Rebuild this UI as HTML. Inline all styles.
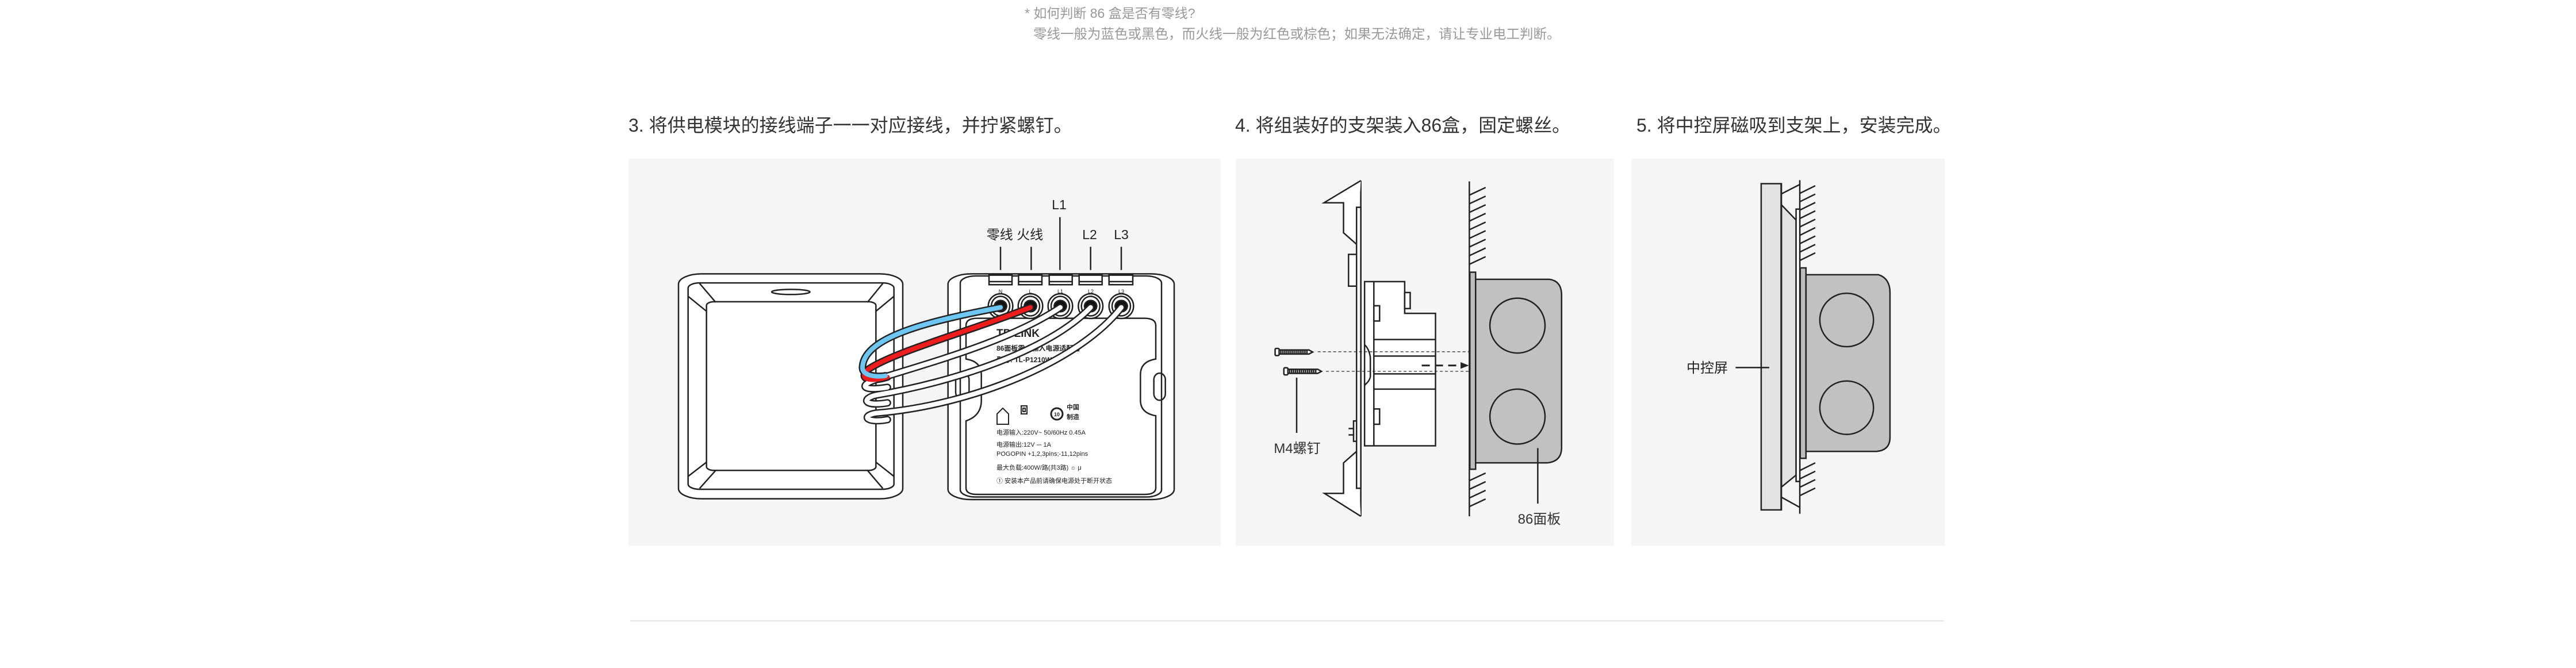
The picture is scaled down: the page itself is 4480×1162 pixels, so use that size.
<!DOCTYPE html>
<html><head><meta charset="utf-8">
<style>
html,body{margin:0;padding:0;background:#fff;}
svg{display:block}
svg *{vector-effect:non-scaling-stroke}
text{font-family:"Liberation Sans","Noto Sans CJK SC",sans-serif}
</style></head>
<body>
<svg width="4480" height="1162" viewBox="0 0 4480 1162" xmlns="http://www.w3.org/2000/svg">
<rect width="4480" height="1162" fill="#fff"/>
<text x="1782" y="31" font-size="23" fill="#999">* 如何判断 86 盒是否有零线?</text>
<text x="1797" y="67" font-size="23.5" fill="#999">零线一般为蓝色或黑色，而火线一般为红色或棕色；如果无法确定，请让专业电工判断。</text>
<text x="1093" y="229" font-size="32" fill="#333">3. 将供电模块的接线端子一一对应接线，并拧紧螺钉。</text>
<text x="2148" y="229" font-size="32" fill="#333">4. 将组装好的支架装入86盒，固定螺丝。</text>
<text x="2846" y="229" font-size="32" fill="#333">5. 将中控屏磁吸到支架上，安装完成。</text>
<rect x="1093" y="276" width="1030" height="673" fill="#f5f5f5"/>
<rect x="2149" y="276" width="658" height="673" fill="#f5f5f5"/>
<rect x="2837" y="276" width="545" height="673" fill="#f5f5f5"/>
<line x1="1096" y1="1080" x2="3380" y2="1080" stroke="#e3e3e3" stroke-width="2"/>

<g transform="translate(1090,270) scale(0.6667,0.4487)" stroke="#222" stroke-width="2.5" fill="none">
  <rect x="135" y="460" width="585" height="872" rx="60" ry="40" fill="#fff"/>
  <rect x="160" y="495" width="537" height="800" rx="30" ry="20" fill="#fff"/>
  <rect x="208" y="568" width="442" height="654" rx="20" ry="14" fill="#fff"/>
  <line x1="190" y1="497" x2="232" y2="570"/><line x1="160" y1="547" x2="208" y2="605"/>
  <line x1="668" y1="497" x2="628" y2="570"/><line x1="697" y1="547" x2="650" y2="605"/>
  <line x1="160" y1="1245" x2="208" y2="1190"/><line x1="190" y1="1292" x2="232" y2="1222"/>
  <line x1="697" y1="1245" x2="650" y2="1190"/><line x1="668" y1="1292" x2="628" y2="1222"/>
  <ellipse cx="428" cy="530" rx="50" ry="10"/>
  <rect x="845" y="570" width="30" height="70" rx="14" ry="20" fill="#fff"/>
  <rect x="845" y="1150" width="30" height="75" rx="14" ry="20" fill="#fff"/>
  <rect x="1390" y="570" width="30" height="70" rx="14" ry="20" fill="#fff"/>
  <rect x="1390" y="1150" width="30" height="75" rx="14" ry="20" fill="#fff"/>
  <rect x="838" y="460" width="590" height="875" rx="60" ry="40" fill="#fff"/>
  <rect x="870" y="468" width="525" height="857" rx="40" ry="28" fill="#fff"/>
  <path d="M885,660 Q885,632 915,632 L1350,632 Q1380,632 1380,660 L1380,790 Q1340,800 1340,850 L1340,950 Q1340,1000 1380,1010 L1380,1290 Q1380,1315 1350,1315 L915,1315 Q885,1315 885,1290 L885,1030 Q925,1010 925,950 L925,850 Q925,800 885,790 Z" fill="#fff"/>
  <rect x="858" y="845" width="35" height="100" rx="17" ry="25"/>
  <rect x="1375" y="845" width="30" height="105" rx="15" ry="25"/>
  <rect x="945" y="465" width="60" height="37" fill="#fff"/><line x1="945" y1="490" x2="1005" y2="490"/>
  <rect x="1022" y="465" width="61" height="37" fill="#fff"/><line x1="1022" y1="490" x2="1083" y2="490"/>
  <rect x="1102" y="465" width="60" height="37" fill="#fff"/><line x1="1102" y1="490" x2="1162" y2="490"/>
  <rect x="1180" y="465" width="60" height="37" fill="#fff"/><line x1="1180" y1="490" x2="1240" y2="490"/>
  <rect x="1258" y="465" width="62" height="37" fill="#fff"/><line x1="1258" y1="490" x2="1320" y2="490"/>
  <g fill="#fff">
    <ellipse cx="975" cy="585" rx="32" ry="48"/><ellipse cx="975" cy="585" rx="24" ry="38"/>
    <ellipse cx="1053" cy="585" rx="32" ry="48"/><ellipse cx="1053" cy="585" rx="24" ry="38"/>
    <ellipse cx="1131" cy="585" rx="32" ry="48"/><ellipse cx="1131" cy="585" rx="24" ry="38"/>
    <ellipse cx="1210" cy="585" rx="32" ry="48"/><ellipse cx="1210" cy="585" rx="24" ry="38"/>
    <ellipse cx="1290" cy="585" rx="32" ry="48"/><ellipse cx="1290" cy="585" rx="24" ry="38"/>
  </g>
  <g fill="#111">
    <ellipse cx="975" cy="585" rx="16" ry="22"/><ellipse cx="1053" cy="585" rx="16" ry="22"/>
    <ellipse cx="1131" cy="585" rx="16" ry="22"/><ellipse cx="1210" cy="585" rx="16" ry="22"/>
    <ellipse cx="1290" cy="585" rx="16" ry="22"/>
  </g>
  <line x1="975" y1="355" x2="975" y2="445"/><line x1="1055" y1="355" x2="1055" y2="445"/>
  <line x1="1130" y1="240" x2="1130" y2="445"/><line x1="1210" y1="355" x2="1210" y2="445"/>
  <line x1="1290" y1="355" x2="1290" y2="445"/>
</g>
<g fill="#222">
  <text x="1733" y="586" font-size="19" font-weight="bold">TP-LINK</text>
  <text x="1733" y="610" font-size="12" font-weight="bold">86面板零火输入电源适配器</text>
  <text x="1733" y="630" font-size="12" font-weight="bold">型号: TL-P1210W</text>
  <text x="1733" y="756" font-size="11">电源输入:220V~ 50/60Hz 0.45A</text>
  <text x="1733" y="777" font-size="11">电源输出:12V ⎓ 1A</text>
  <text x="1733" y="793" font-size="11">POGOPIN +1,2,3pins;-11,12pins</text>
  <text x="1733" y="817" font-size="11">最大负载:400W/路(共3路) ☼ μ</text>
  <text x="1733" y="840" font-size="11">① 安装本产品前请确保电源处于断开状态</text>
  <text x="1855" y="712" font-size="11" font-weight="bold">中国</text>
  <text x="1855" y="729" font-size="11" font-weight="bold">制造</text>
  <text x="1740" y="510" font-size="9" text-anchor="middle">N</text>
  <text x="1792" y="510" font-size="9" text-anchor="middle">L</text>
  <text x="1844" y="510" font-size="9" text-anchor="middle">L1</text>
  <text x="1897" y="510" font-size="9" text-anchor="middle">L2</text>
  <text x="1950" y="510" font-size="9" text-anchor="middle">L3</text>
</g>
<g stroke="#222" stroke-width="2" fill="none">
  <path d="M1734,720 L1744,710 L1754,720 L1754,738 L1734,738 Z"/>
  <rect x="1776" y="706" width="10" height="14"/><rect x="1779" y="710" width="4" height="6"/>
  <circle cx="1838" cy="720" r="10" stroke-width="3"/>
</g>
<text x="1838" y="724" font-size="9" text-anchor="middle" font-weight="bold" fill="#222">10</text>
<g transform="translate(1090,270) scale(0.6667,0.4487)" fill="none" stroke-linecap="round">
  <g stroke="#222" stroke-width="13">
    <path d="M1290,590 C1180,800 900,970 650,1000 C610,1010 625,1040 680,1025"/>
    <path d="M1210,590 C1100,760 850,880 650,930 C610,945 620,975 680,960"/>
    <path d="M1131,590 C1000,720 800,800 650,870 C600,895 620,915 680,900"/>
    <path d="M1053,590 C900,680 700,760 630,830 C600,870 640,880 680,860"/>
    <path d="M975,590 C800,640 620,700 615,820 C612,860 660,860 675,855"/>
  </g>
</g>
<g transform="translate(1090,270) scale(0.6667,0.4487)" fill="none" stroke-linecap="round">
  <path d="M1290,590 C1180,800 900,970 650,1000 C610,1010 625,1040 680,1025" stroke="#fff" stroke-width="8"/>
  <path d="M1210,590 C1100,760 850,880 650,930 C610,945 620,975 680,960" stroke="#fff" stroke-width="8"/>
  <path d="M1131,590 C1000,720 800,800 650,870 C600,895 620,915 680,900" stroke="#fff" stroke-width="8"/>
  <path d="M1053,590 C900,680 700,760 630,830 C600,870 640,880 680,860" stroke="#ee1c1c" stroke-width="8"/>
  <path d="M975,590 C800,640 620,700 615,820 C612,860 660,860 675,855" stroke="#6ec6f2" stroke-width="8"/>
</g>
<g fill="#222" font-size="23">
  <text x="1765" y="416" text-anchor="middle">零线 火线</text>
  <text x="1842" y="364" text-anchor="middle">L1</text>
  <text x="1895" y="416" text-anchor="middle">L2</text>
  <text x="1950" y="416" text-anchor="middle">L3</text>
</g>

<g transform="translate(2150,270) scale(0.4359,0.4423)" stroke="#222" stroke-width="2.5" fill="none">
  <line x1="497" y1="100" x2="497" y2="1420"/>
  <path d="M497,100 L350,187 L428,187 L428,305 L482,352" fill="#fff"/>
  <path d="M497,1420 L352,1330 L428,1330 L428,1210 L482,1163" fill="#fff"/>
  <rect x="480" y="205" width="17" height="1105" fill="#fff"/>
  <rect x="448" y="390" width="32" height="125" fill="#fff"/>
  <rect x="468" y="1045" width="12" height="80" fill="#fff"/>
  <line x1="448" y1="1075" x2="468" y2="1075"/><line x1="448" y1="1100" x2="468" y2="1100"/>
  <path d="M512,497 L672,497 L672,622 L795,622 L795,1143 L512,1143 Z" fill="#fff"/>
  <line x1="549" y1="497" x2="549" y2="1143"/>
  <rect x="672" y="540" width="22" height="63" fill="#fff"/>
  <rect x="549" y="592" width="23" height="60" fill="#fff"/>
  <rect x="549" y="998" width="23" height="60" fill="#fff"/>
  <line x1="549" y1="725" x2="795" y2="725"/><line x1="549" y1="790" x2="795" y2="790"/>
  <line x1="549" y1="860" x2="795" y2="860"/><line x1="549" y1="920" x2="795" y2="920"/>
  <path d="M512,745 C528,760 535,785 535,800 L535,870 C533,888 518,898 512,905"/>
  <rect x="155" y="760" width="16" height="28" rx="4" fill="#fff"/>
  <path d="M171,766 L290,766 L305,774 L290,782 L171,782" />
  <path d="M178,766 L178,782 M186,766 L186,782 M194,766 L194,782 M202,766 L202,782 M210,766 L210,782 M218,766 L218,782 M226,766 L226,782 M234,766 L234,782 M242,766 L242,782 M250,766 L250,782 M258,766 L258,782 M266,766 L266,782 M274,766 L274,782 M282,766 L282,782"/>
  <rect x="190" y="836" width="16" height="28" rx="4" fill="#fff"/>
  <path d="M206,842 L325,842 L340,850 L325,858 L206,858"/>
  <path d="M213,842 L213,858 M221,842 L221,858 M229,842 L229,858 M237,842 L237,858 M245,842 L245,858 M253,842 L253,858 M261,842 L261,858 M269,842 L269,858 M277,842 L277,858 M285,842 L285,858 M293,842 L293,858 M301,842 L301,858 M309,842 L309,858 M317,842 L317,858"/>
  <line x1="325" y1="773" x2="930" y2="773" stroke-width="1.2" stroke-dasharray="5,4"/>
  <line x1="358" y1="850" x2="930" y2="850" stroke-width="1.2" stroke-dasharray="5,4"/>
  <line x1="740" y1="827" x2="898" y2="827" stroke-width="3" stroke-dasharray="14,9"/>
  <path d="M895,814 L928,827 L895,840 Z" fill="#222" stroke="none"/>
  <line x1="241" y1="875" x2="241" y2="1092"/>
  <line x1="930" y1="103" x2="930" y2="1420"/>
  <path d="M930,157 L995,127 M930,191 L995,161 M930,225 L995,195 M930,259 L995,229 M930,293 L995,263 M930,327 L995,297 M930,361 L995,331 M930,395 L995,365 M930,429 L995,399"/>
  <path d="M930,1280 L995,1250 M930,1314 L995,1284 M930,1348 L995,1318 M930,1382 L995,1352"/>
  <rect x="932" y="460" width="23" height="775" fill="#bdbdbd"/>
  <path d="M955,488 L1250,488 Q1298,495 1298,550 L1298,1150 Q1298,1205 1240,1210 L955,1210 Z" fill="#c0c1c3"/>
  <ellipse cx="1122" cy="670" rx="110" ry="108"/>
  <ellipse cx="1122" cy="1028" rx="110" ry="108"/>
  <line x1="1203" y1="1152" x2="1203" y2="1370"/>
</g>
<text x="2256" y="788" font-size="24" fill="#333" text-anchor="middle">M4螺钉</text>
<text x="2677" y="911" font-size="24" fill="#333" text-anchor="middle">86面板</text>

<g transform="translate(2840,270) scale(0.359,0.4423)" stroke="#222" stroke-width="2.5" fill="none">
  <line x1="808" y1="98" x2="808" y2="1410"/>
  <path d="M808,150 L883,120 M808,183 L883,153 M808,216 L883,186 M808,249 L883,219 M808,282 L883,252 M808,315 L883,285 M808,348 L883,318 M808,381 L883,351 M808,414 L883,384"/>
  <path d="M808,1240 L883,1210 M808,1273 L883,1243 M808,1306 L883,1276 M808,1339 L883,1309"/>
  <path d="M719,152 L808,115"/><path d="M719,1345 L808,1385"/>
  <path d="M719,195 L790,255 L790,1258 L719,1305 Z" fill="#e3e3e3"/>
  <rect x="790" y="212" width="18" height="1071" fill="#fff"/>
  <rect x="810" y="443" width="28" height="749" fill="#bdbdbd"/>
  <path d="M838,470 L1190,470 Q1245,485 1245,540 L1245,1110 Q1245,1160 1180,1165 L838,1165 Z" fill="#c0c1c3"/>
  <ellipse cx="1035" cy="648" rx="130" ry="105"/>
  <ellipse cx="1035" cy="993" rx="130" ry="105"/>
  <rect x="621" y="112" width="98" height="1283" fill="#e3e3e3"/>
  <line x1="716" y1="112" x2="716" y2="1395" stroke-width="1.5"/>
  <line x1="497" y1="835" x2="660" y2="835"/>
</g>
<text x="2969" y="648" font-size="24" fill="#222" text-anchor="middle">中控屏</text>
</svg>
</body></html>
